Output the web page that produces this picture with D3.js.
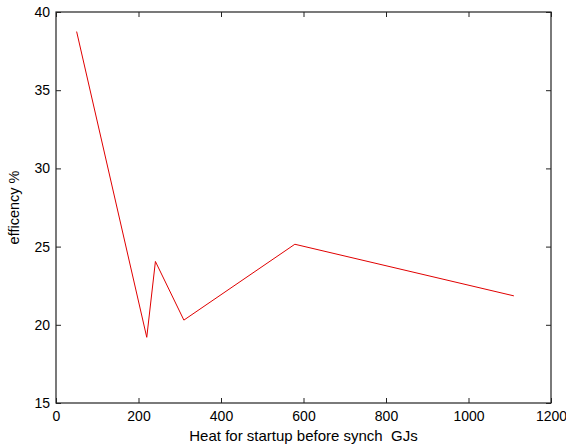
<!DOCTYPE html>
<html>
<head>
<meta charset="utf-8">
<script src="https://cdn.jsdelivr.net/npm/d3@7"></script>
<style>
html,body{margin:0;padding:0;background:#fff;}
svg{display:block;}
text{font-family:"Liberation Sans",Arial,sans-serif;fill:#000;}
</style>
</head>
<body>
<script>
const heatGJ = [50, 220, 241, 310, 579, 1110];
const efficiency = [38.75, 19.2, 24.05, 20.3, 25.15, 21.85];
const xTicks = [0, 200, 400, 600, 800, 1000, 1200];
const yTicks = [15, 20, 25, 30, 35, 40];
const xLabel = "Heat for startup before synch  GJs";
const yLabel = "efficency %";

const W = 566, H = 448;
const m = {left: 56, top: 12, right: 15, bottom: 45};
const svg = d3.select("body").append("svg").attr("width", W).attr("height", H);

const x = d3.scaleLinear().domain([0, 1200]).range([m.left, W - m.right]);
const y = d3.scaleLinear().domain([15, 40]).range([H - m.bottom, m.top]);

const axisColor = "#222";
svg.append("rect")
  .attr("x", x(0)).attr("y", y(40))
  .attr("width", x(1200) - x(0)).attr("height", y(15) - y(40))
  .attr("fill", "none").attr("stroke", axisColor).attr("stroke-width", 1.2);

const tl = 5;
function styleAxis(g){
  g.select(".domain").remove();
  g.selectAll(".tick line").attr("stroke", axisColor);
  g.selectAll(".tick text").attr("font-size", 14).attr("fill", "#000")
    .attr("font-family", "Liberation Sans, Arial, sans-serif");
}
svg.append("g").attr("transform", `translate(0,${y(15)})`)
  .call(d3.axisBottom(x).tickValues(xTicks).tickSizeInner(-tl).tickSizeOuter(0).tickPadding(8).tickFormat(d3.format("d")))
  .call(styleAxis);
svg.append("g").attr("transform", `translate(0,${y(40)})`)
  .call(d3.axisTop(x).tickValues(xTicks).tickSizeInner(-tl).tickSizeOuter(0).tickFormat(""))
  .call(styleAxis);
svg.append("g").attr("transform", `translate(${x(0)},0)`)
  .call(d3.axisLeft(y).tickValues(yTicks).tickSizeInner(-tl).tickSizeOuter(0).tickPadding(6).tickFormat(d3.format("d")))
  .call(styleAxis);
svg.append("g").attr("transform", `translate(${x(1200)},0)`)
  .call(d3.axisRight(y).tickValues(yTicks).tickSizeInner(-tl).tickSizeOuter(0).tickFormat(""))
  .call(styleAxis);

svg.append("path")
  .datum(heatGJ.map((v, i) => [v, efficiency[i]]))
  .attr("fill", "none").attr("stroke", "#e00000").attr("stroke-width", 1)
  .attr("d", d3.line().x(d => x(d[0])).y(d => y(d[1])));

svg.append("text").attr("x", (x(0) + x(1200)) / 2).attr("y", 441)
  .attr("text-anchor", "middle").attr("font-size", 15).style("white-space", "pre").text(xLabel);
svg.append("text").attr("transform", `translate(19,${(y(15) + y(40)) / 2}) rotate(-90)`)
  .attr("text-anchor", "middle").attr("font-size", 14.5).text(yLabel);
</script>
</body>
</html>
